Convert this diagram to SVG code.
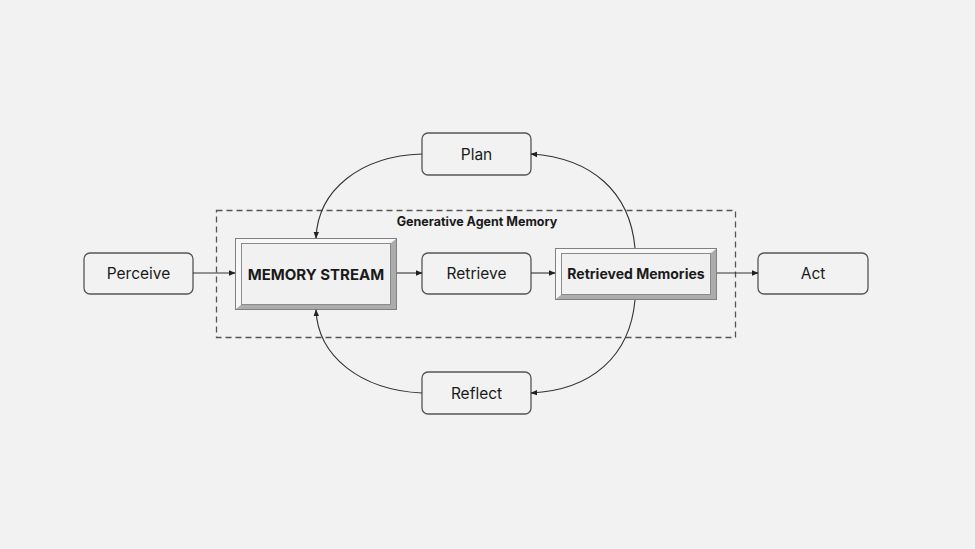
<svg xmlns="http://www.w3.org/2000/svg" width="975" height="549" viewBox="0 0 975 549">
<defs>
<marker id="ah" viewBox="0 0 10 10" refX="9" refY="5" markerWidth="7" markerHeight="7" markerUnits="userSpaceOnUse" orient="auto"><path d="M0,1 L10,5 L0,9 z" fill="#222"/></marker>
<style>
.node{fill:#f2f2f2;stroke:#555;stroke-width:1.3}
.lbl{font-family:Inter,"Liberation Sans",sans-serif;font-size:15.5px;fill:#1a1a1a;text-anchor:middle;dominant-baseline:central}
.bold{font-weight:700}
.conn{fill:none;stroke:#333;stroke-width:1.1;marker-end:url(#ah)}
.outer{fill:#e2e2e2;stroke:#808080;stroke-width:1}
.light{fill:#f8f8f8}
.dark{fill:#acacac}
.inner{fill:#f1f1f1;stroke:#8a8a8a;stroke-width:1}
</style>
</defs>
<rect width="975" height="549" fill="#f2f2f2"/>
<g id="group-memory">
<rect x="216.5" y="210.5" width="519" height="127" fill="none" stroke="#555" stroke-width="1.3" stroke-dasharray="6,4"/>
<text x="477" y="221" class="lbl bold" style="font-size:12.5px">Generative Agent Memory</text>
</g>
<g id="perceive"><rect class="node" x="84" y="253" width="109" height="41" rx="6"/><text class="lbl" x="138.5" y="273.5">Perceive</text></g>
<g id="memory-stream">
<rect class="outer" x="235.5" y="238.5" width="161" height="71"/>
<polygon class="light" points="236,239 396,239 391,243 241,243 241,305 236,309"/>
<polygon class="dark" points="396,239 396,309 236,309 241,305 391,305 391,243"/>
<rect class="inner" x="241.5" y="243.5" width="149" height="61"/>
<rect x="235.5" y="238.5" width="161" height="71" fill="none" stroke="#808080" stroke-width="1"/>
<text class="lbl bold" x="316" y="274" style="font-size:15px">MEMORY STREAM</text>
</g>
<g id="retrieve"><rect class="node" x="422" y="253" width="109" height="41" rx="6"/><text class="lbl" x="476.5" y="273.5">Retrieve</text></g>
<g id="retrieved-memories">
<rect class="outer" x="555.5" y="248.5" width="161" height="51"/>
<polygon class="light" points="556,249 716,249 711,253 561,253 561,295 556,299"/>
<polygon class="dark" points="716,249 716,299 556,299 561,295 711,295 711,253"/>
<rect class="inner" x="561.5" y="253.5" width="149" height="41"/>
<rect x="555.5" y="248.5" width="161" height="51" fill="none" stroke="#808080" stroke-width="1"/>
<text class="lbl bold" x="636" y="273.5" style="font-size:14px">Retrieved Memories</text>
</g>
<g id="act"><rect class="node" x="758" y="253" width="110" height="41" rx="6"/><text class="lbl" x="813" y="273.5">Act</text></g>
<g id="plan"><rect class="node" x="422" y="133" width="109" height="42" rx="6"/><text class="lbl" x="476.5" y="154">Plan</text></g>
<g id="reflect"><rect class="node" x="422" y="372" width="109" height="42" rx="6"/><text class="lbl" x="476.5" y="393">Reflect</text></g>
<g id="connectors">
<path class="conn" d="M193,273 L235,273"/>
<path class="conn" d="M397,273 L422,273"/>
<path class="conn" d="M531,273 L555,273"/>
<path class="conn" d="M717,273 L758,273"/>
<path class="conn" d="M422,154 C360,156 318,190 316,238"/>
<path class="conn" d="M635,248 C630,192 592,158 531,154"/>
<path class="conn" d="M635,300 C630,356 592,390 531,393"/>
<path class="conn" d="M422,393 C360,390 318,356 316,310"/>
</g>
</svg>
